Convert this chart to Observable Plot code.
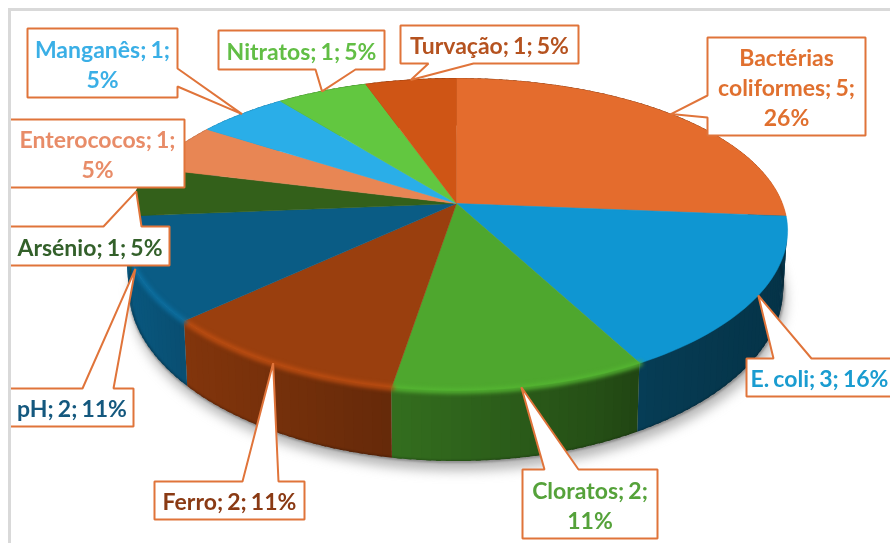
<!DOCTYPE html>
<html><head><meta charset="utf-8">
<script src="https://cdn.jsdelivr.net/npm/d3@7"></script>
<script src="https://cdn.jsdelivr.net/npm/@observablehq/plot@0.6"></script>
<style>
html,body{margin:0;padding:0;background:#fff;overflow:hidden}
svg{display:block}
.shadow{filter:blur(6px)}
.wall{filter:blur(0.7px)}
.rim{filter:blur(2px)}
.edge{filter:blur(1px)}
.soft{filter:blur(0.4px)}
.label{word-spacing:-1.5px}
</style></head><body><div id="chart"></div>
<script>
// ---- data ----
const names = ["Bactérias coliformes","E. coli","Cloratos","Ferro","pH","Arsénio","Enterococos","Manganês","Nitratos","Turvação"];
const values = [5,3,2,2,2,1,1,1,1,1];
const labels = ["Bactérias\ncoliformes; 5;\n26%","E. coli; 3; 16%","Cloratos; 2;\n11%","Ferro; 2; 11%","pH; 2; 11%","Arsénio; 1; 5%","Enterococos; 1;\n5%","Manganês; 1;\n5%","Nitratos; 1; 5%","Turvação; 1; 5%"];
// ---- styles ----
const faceColors = ["#E46C2D","#0F96D2","#4EA72E","#9A3F0E","#0A5C85","#33601A","#E88654","#2AAEE8","#62C740","#CF5515"];
const textColors = ["#E0702F","#1A9CD0","#55A23A","#8A3A14","#14587E","#33602A","#E88C68","#3AAFE6","#62BE45","#B5521F"];
const rimLift = [0,0,0.25,0.6,0.55,0,0,0,0,0];
// ---- layout of the callouts: box [x1,y1,x2,y2], side of the wedge, base of the wedge ----
const callouts = [
  {box:[707,37,865,135],side:"left",base:[95,117]},
  {box:[746,358,900,396],side:"top",base:[773,811]},
  {box:[522,469,657,538],side:"top",base:[544,578]},
  {box:[154,481,304,519],side:"top",base:[242,278]},
  {box:[0,388,133,426],side:"top",base:[82,113]},
  {box:[0,226,169,265],side:"top",base:[103,141]},
  {box:[0,119,184,187],side:"none",base:[0,0]},
  {box:[27,28,177,97],side:"right",base:[68,86]},
  {box:[218,30,384,69],side:"bottom",base:[315,355]},
  {box:[400,25,578,63],side:"bottom",base:[428,473]}
];
// ---- pie geometry (projected disc) ----
const cx=456, cy=203, R=326, S=149.8, k=0.1987, kx=0.175, D=57, shrink=0.988;
const total=d3.sum(values);
const rad=d=>d*Math.PI/180;
const top3=t=>{const u=Math.sin(t),v=Math.cos(t);return [cx+R*u/(1+kx*v),cy-S*v/(1+k*v)];};
const bot3=t=>{const u=Math.sin(t),v=Math.cos(t);return [cx+R*shrink*u/(1+kx*v),cy-S*v/(1+k*v)+D/(1+k*v)];};
let acc=0;
const slices=values.map((val,i)=>{const a0=acc/total*2*Math.PI;acc+=val;const a1=acc/total*2*Math.PI;
  return {i,name:names[i],a0,a1,mid:(a0+a1)/2,color:faceColors[i]};});
const step=rad(1.5);
const arc=(a0,a1)=>{const out=[];const n=Math.max(2,Math.ceil((a1-a0)/step));for(let j=0;j<=n;j++)out.push(a0+(a1-a0)*j/n);return out;};
const shade=d3.scaleLinear().domain([126,190,390,600,650,786]).range([0.95,0.84,0.66,0.47,0.40,0.34]).clamp(true);
const darken=(c,f)=>{const r=d3.rgb(c);return d3.rgb(r.r*f,r.g*f,r.b*f).formatHex();};

const facePts=slices.flatMap(s=>[
  {x:cx,y:cy,z:s.name,fill:s.color},
  ...arc(s.a0,s.a1).map(t=>{const [x,y]=top3(t);return {x,y,z:s.name,fill:s.color};})
]);
// wall strips overlap a little so no seams show between them
const wallPts=slices.flatMap(s=>{
  const as=arc(s.a0,s.a1),out=[];
  for(let j=0;j<as.length-1;j++){
    const id=s.name+j,f=shade(top3((as[j]+as[j+1])/2)[0]),fill=darken(s.color,f);
    const end=Math.min(as[j+1]+step*0.5,s.a1);
    for(const t of [as[j],end]){const [x1,y1]=top3(t),[x2,y2]=bot3(t);out.push({x1,y1,x2,y2,z:id,fill});}
  }
  return out;
});
const rimPts=slices.filter(s=>rimLift[s.i]>0).flatMap(s=>arc(s.a0,s.a1).map(t=>{
  const [x,y]=top3(t);return {x,y:y+0.5,z:s.name,stroke:d3.color(s.color).brighter(rimLift[s.i]).formatHex()};}));
const outline=arc(0,2*Math.PI).map(t=>{const [x,y]=bot3(t);return {x,y};});
const shadowPts=outline.map(p=>({x:p.x+2,y:p.y+9}));
const frontEdge=arc(rad(60),rad(300)).map(t=>{const [x,y]=bot3(t);return {x,y};});

// ---- callout shapes, wedge tips sit on the rim at each slice's middle ----
const calloutPts=callouts.flatMap((c,i)=>{
  const [x1,y1,x2,y2]=c.box,[a,b]=c.base,tip=top3(slices[i].mid);let p;
  if(c.side==="top") p=[[x1,y1],[a,y1],tip,[b,y1],[x2,y1],[x2,y2],[x1,y2]];
  else if(c.side==="bottom") p=[[x1,y1],[x2,y1],[x2,y2],[b,y2],tip,[a,y2],[x1,y2]];
  else if(c.side==="left") p=[[x1,y1],[x2,y1],[x2,y2],[x1,y2],[x1,b],tip,[x1,a]];
  else if(c.side==="right") p=[[x1,y1],[x2,y1],[x2,a],tip,[x2,b],[x2,y2],[x1,y2]];
  else p=[[x1,y1],[x2,y1],[x2,y2],[x1,y2]];
  return p.map(([x,y])=>({x,y,z:names[i]}));
});
const textRows=callouts.map((c,i)=>({x:(Math.max(c.box[0],10)+Math.min(c.box[2],890))/2,y:(c.box[1]+c.box[3])/2,text:labels[i],fill:textColors[i]}));
textRows[1].x=819;

const chart=Plot.plot({
  width:890,height:543,margin:0,
  x:{domain:[0,890],range:[0,890],axis:null},
  y:{domain:[0,543],range:[0,543],axis:null},
  marks:[
    Plot.line(shadowPts,{x:"x",y:"y",fill:"#8f8f8f",fillOpacity:0.65,stroke:"none",className:"shadow"}),
    Plot.area(wallPts,{x1:"x1",y1:"y1",x2:"x2",y2:"y2",z:"z",fill:"fill",className:"wall"}),
    Plot.line(frontEdge,{x:"x",y:"y",stroke:"#000",strokeOpacity:0.35,strokeWidth:2,className:"edge"}),
    Plot.line(facePts,{x:"x",y:"y",z:"z",fill:"fill",stroke:"fill",strokeWidth:0.5,strokeLinejoin:"round"}),
    Plot.line(rimPts,{x:"x",y:"y",z:"z",stroke:"stroke",strokeWidth:5,className:"rim"}),
    Plot.line(calloutPts,{x:"x",y:"y",z:"z",curve:"linear-closed",fill:"#fff",stroke:"#E0743A",strokeWidth:2,strokeLinejoin:"miter",className:"soft"}),
    Plot.text(textRows,{x:"x",y:"y",text:"text",fill:"fill",fontFamily:"Lato",fontWeight:700,fontSize:23,lineHeight:1.3,textAnchor:"middle",className:"soft label"}),
    // picture frame
    Plot.rect([{x1:0,x2:8,y1:0,y2:543},{x1:0,x2:890,y1:0,y2:8}],{x1:"x1",x2:"x2",y1:"y1",y2:"y2",fill:"#fff"}),
    Plot.rect([{x1:8,x2:11,y1:8,y2:543},{x1:8,x2:890,y1:8,y2:11}],{x1:"x1",x2:"x2",y1:"y1",y2:"y2",fill:"#D9D9D9"})
  ]
});
document.getElementById("chart").append(chart);
</script></body></html>
